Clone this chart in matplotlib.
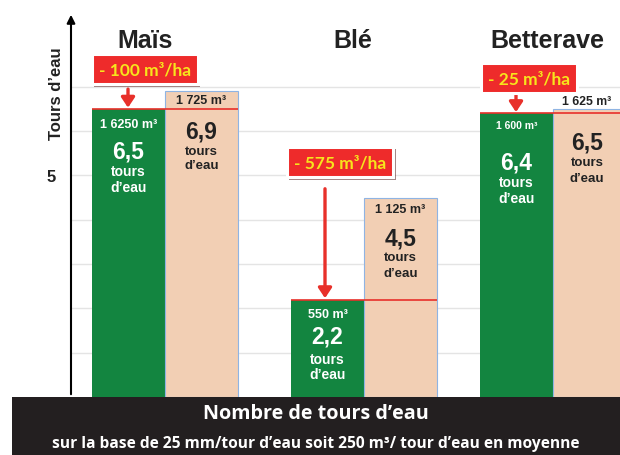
import matplotlib.pyplot as plt
import matplotlib.patheffects as pe
from matplotlib.patches import Rectangle

# data
cultures = ['Maïs', 'Blé', 'Betterave']
tours_avant = [6.9, 4.5, 6.5]      # peach bars
tours_apres = [6.5, 2.2, 6.4]      # green bars
volumes_avant = ['1 725 m³', '1 125 m³', '1 625 m³']
volumes_apres = ['1 6250 m³', '550 m³', '1 600 m³']
economies = ['- 100 m³/ha', '- 575 m³/ha', '- 25 m³/ha']

green = '#138540'
peach = '#f2cfb4'
red = '#ee2b2b'
yellow = '#f7e51c'
dark = '#222222'

plt.rcParams['font.family'] = ['Liberation Sans', 'DejaVu Sans']

fig = plt.figure(figsize=(6.2, 4.56), dpi=100)
ax = fig.add_axes([71/620, 58/456, 549/620, 385/456])
ax.set_xlim(71, 620)
ax.set_ylim(0, 8.69)

centres = [165, 364, 553]   # x of green/peach boundary
w = 73

ax.bar([c - w for c in centres], tours_apres, width=w, align='edge', color=green, zorder=2)
ax.bar(centres, tours_avant, width=w, align='edge', color=peach, edgecolor='#8fb4e3', linewidth=0.8, zorder=2)
for c, v in zip(centres, tours_apres):
    ax.hlines(v, c - w, c + w, color='#e8302a', lw=1.2, zorder=3)

# grid / axis
ax.set_yticks(range(1, 8))
ax.set_yticklabels(['', '', '', '', '5', '', ''], fontsize=12, fontweight='bold', color=dark)
ax.tick_params(axis='y', length=0, pad=11)
ax.set_xticks([])
ax.grid(axis='y', color='#e4e4e4', lw=1, zorder=0)
for s in ['top', 'right', 'bottom', 'left']:
    ax.spines[s].set_visible(False)
ax.annotate('', xy=(0, 1), xycoords='axes fraction', xytext=(0, 0),
            arrowprops=dict(arrowstyle='-|>', color='black', lw=1.5, mutation_scale=12))
ax.text(-0.013, 0.79, 'Tours d\u2019eau', transform=ax.transAxes, rotation=90,
        ha='right', va='center', fontsize=12, fontweight='bold', color=dark)

# category titles
title_x = [145, 353, 547]
for x, name in zip(title_x, cultures):
    ax.text(x, 8.05, name, ha='center', va='center', fontsize=18, fontweight='bold', color=dark)

# labels inside bars (offsets below bar tops, in data units)
off_g = [[0.34, 0.95, 1.4, 1.75], [0.33, 0.82, 1.34, 1.68], [0.27, 1.1, 1.55, 1.9]]
off_p = [[0.2, 0.9, 1.35, 1.67], [0.25, 0.9, 1.35, 1.7], [-0.18, 0.75, 1.2, 1.55]]
vol_size_g = [9, 9, 7.5]
vol_size_p = [9, 9, 8.8]
for i, c in enumerate(centres):
    xg = c - w / 2
    xp = c + w / 2 if i < 2 else 587
    g, p = tours_apres[i], tours_avant[i]
    og, op = off_g[i], off_p[i]
    ax.text(xg, g - og[0], volumes_apres[i], ha='center', va='center', color='white',
            fontsize=vol_size_g[i], fontweight='bold', zorder=4)
    ax.text(xg, g - og[1], f'{g:.1f}'.replace('.', ','), ha='center', va='center', color='white',
            fontsize=16.5, fontweight='bold', zorder=4)
    ax.text(xg, g - og[2], 'tours', ha='center', va='center', color='white', fontsize=10, fontweight='bold', zorder=4)
    ax.text(xg, g - og[3], 'd\u2019eau', ha='center', va='center', color='white', fontsize=10, fontweight='bold', zorder=4)
    ax.text(xp, p - op[0], volumes_avant[i], ha='center', va='center', color=dark,
            fontsize=vol_size_p[i], fontweight='bold', zorder=4)
    ax.text(xp, p - op[1], f'{p:.1f}'.replace('.', ','), ha='center', va='center', color=dark,
            fontsize=16.5, fontweight='bold', zorder=4)
    ax.text(xp, p - op[2], 'tours', ha='center', va='center', color=dark, fontsize=9.5, fontweight='bold', zorder=4)
    ax.text(xp, p - op[3], 'd\u2019eau', ha='center', va='center', color=dark, fontsize=9.5, fontweight='bold', zorder=4)

# red boxes with arrows
box_pos = [(145, 7.4), (340, 5.3), (529, 7.2)]
arrow_x = [128, 325, 516]
arrow_from = [6.95, 4.7, 6.85]
for i in range(3):
    bx, by = box_pos[i]
    t = ax.text(bx, by, economies[i], ha='center', va='center', color=yellow, fontsize=12.5,
                fontweight='bold', family=['Lato', 'DejaVu Sans'], zorder=6,
                bbox=dict(boxstyle='square,pad=0.42', fc=red, ec='white', lw=2.2))
    t.get_bbox_patch().set_path_effects([pe.SimplePatchShadow(offset=(1.5, -1.5), alpha=0.5), pe.Normal()])
    ax.annotate('', xy=(arrow_x[i], tours_apres[i] + 0.03), xytext=(arrow_x[i], arrow_from[i]),
                arrowprops=dict(arrowstyle='-|>,head_length=0.6,head_width=0.4', color='#e8302a',
                                lw=2.4, shrinkA=0, shrinkB=0), zorder=5)

# bottom band
fig.patches.append(Rectangle((12/620, 0), 608/620, 58/456, transform=fig.transFigure,
                             facecolor='#231f20', edgecolor='none', zorder=10))
fig.text(316/620, 1 - 414/456, 'Nombre de tours d\u2019eau', ha='center', va='center', color='white',
         fontsize=14.2, fontweight='bold', family=['Open Sans', 'DejaVu Sans'], zorder=11)
fig.text(316/620, 1 - 444/456, 'sur la base de 25 mm/tour d\u2019eau soit 250 m³/ tour d\u2019eau en moyenne',
         ha='center', va='center', color='white', fontsize=11.2, fontweight='bold',
         family=['Open Sans', 'DejaVu Sans'], zorder=11)

fig.savefig('out.png', dpi=100)
